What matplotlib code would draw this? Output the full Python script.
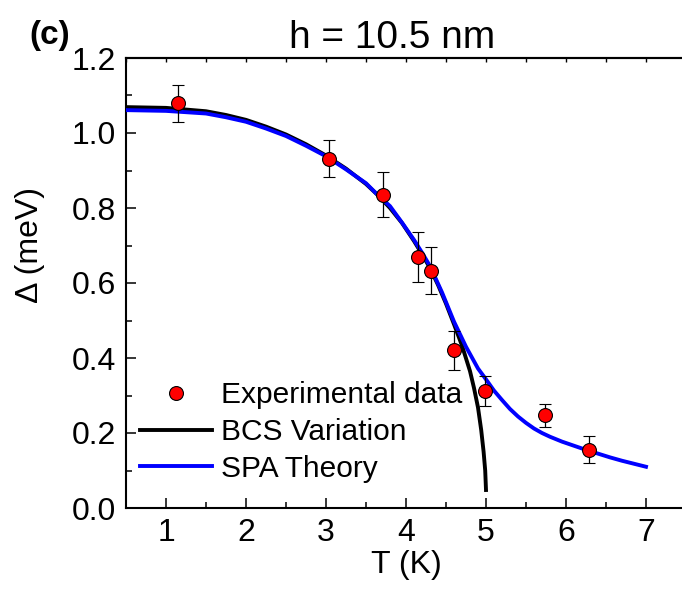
import matplotlib
matplotlib.use("Agg")
import matplotlib.pyplot as plt
from matplotlib.ticker import MultipleLocator

plt.rcParams['font.family'] = ['Liberation Sans', 'DejaVu Sans']

# experimental points
T_exp = [1.15, 3.04, 3.71, 4.15, 4.31, 4.60, 4.99, 5.74, 6.29]
gap_exp = [1.079, 0.931, 0.836, 0.670, 0.633, 0.421, 0.312, 0.247, 0.155]
gap_err = [0.050, 0.049, 0.059, 0.067, 0.062, 0.052, 0.041, 0.031, 0.036]

# BCS variation curve
T_bcs = [0.5, 1.0, 1.5, 1.75, 2.0, 2.25, 2.5, 2.75, 3.0, 3.25, 3.5, 3.65, 3.8,
         3.95, 4.1, 4.2, 4.3, 4.4, 4.5, 4.6, 4.7, 4.8, 4.85, 4.9, 4.94, 4.97,
         4.99, 5.0]
gap_bcs = [1.069, 1.067, 1.058, 1.048, 1.035, 1.017, 0.996, 0.970, 0.940,
           0.905, 0.864, 0.834, 0.800, 0.760, 0.712, 0.677, 0.640, 0.595,
           0.545, 0.490, 0.433, 0.365, 0.320, 0.268, 0.208, 0.150, 0.100, 0.048]

# SPA theory curve
T_spa = [0.5, 1.0, 1.5, 1.75, 2.0, 2.25, 2.5, 2.75, 3.0, 3.25, 3.5, 3.65, 3.8,
         3.95, 4.1, 4.2, 4.3, 4.45, 4.6, 4.75, 4.9, 5.0, 5.1, 5.2, 5.3, 5.4,
         5.5, 5.6, 5.7, 5.8, 5.95, 6.1, 6.25, 6.4, 6.55, 6.7, 6.85, 7.0]
gap_spa = [1.061, 1.059, 1.052, 1.042, 1.030, 1.012, 0.992, 0.966, 0.938,
           0.903, 0.866, 0.834, 0.805, 0.761, 0.715, 0.681, 0.645, 0.575,
           0.497, 0.430, 0.372, 0.343, 0.313, 0.288, 0.264, 0.244, 0.227,
           0.212, 0.200, 0.190, 0.177, 0.166, 0.155, 0.145, 0.135, 0.126,
           0.118, 0.110]

fig = plt.figure(figsize=(6.82, 5.94), dpi=100)
W, H = 682.0, 594.0
# axes box in pixels: left 126, right 686 (runs past the edge), top 58, bottom 508
ax = fig.add_axes([126 / W, (H - 508) / H, 560 / W, 450 / H])

ax.plot(T_bcs, gap_bcs, color='black', lw=2.8, label='BCS Variation', zorder=2)
ax.plot(T_spa, gap_spa, color='#0000ff', lw=2.8, label='SPA Theory', zorder=3)
eb = ax.errorbar(T_exp, gap_exp, yerr=gap_err, fmt='o', color='black', ecolor='black',
                 elinewidth=0.9, capsize=4.5, capthick=0.9, markersize=10,
                 markerfacecolor='#ff0000', markeredgecolor='black', markeredgewidth=0.8,
                 zorder=4)

ax.set_xlim(0.5, 7.5)
ax.set_ylim(0, 1.2)
ax.xaxis.set_major_locator(MultipleLocator(1))
ax.xaxis.set_minor_locator(MultipleLocator(0.5))
ax.yaxis.set_major_locator(MultipleLocator(0.2))
ax.yaxis.set_minor_locator(MultipleLocator(0.1))
ax.yaxis.set_major_formatter(plt.FormatStrFormatter('%.1f'))

ax.tick_params(which='both', direction='in', width=1.1, labelsize=23, pad=7)
ax.tick_params(which='major', length=7)
ax.tick_params(which='minor', length=4)
for s in ['left', 'bottom', 'top']:
    ax.spines[s].set_linewidth(1.5)
ax.spines['right'].set_visible(False)

top = ax.secondary_xaxis('top')
top.xaxis.set_major_locator(MultipleLocator(0.5))
top.tick_params(direction='in', length=3, width=1.0, labeltop=False)
top.spines['top'].set_linewidth(1.5)

ax.set_xlabel('T (K)', fontsize=23, labelpad=2)
ax.set_ylabel('Δ (meV)', fontsize=23)
ax.yaxis.set_label_coords(-0.145, 0.585)

lines = ax.get_lines()
leg = ax.legend([eb[0], lines[0], lines[1]],
                ['Experimental data', 'BCS Variation', 'SPA Theory'],
                loc='upper left', bbox_to_anchor=(140 / W, 1 - 381 / H),
                bbox_transform=fig.transFigure, frameon=False, fontsize=21.5,
                handlelength=2.4, handletextpad=0.3, labelspacing=0.3,
                borderpad=0, borderaxespad=0)

fig.text(392 / W, 1 - 48 / H, 'h = 10.5 nm', fontsize=28, ha='center', va='baseline')
fig.text(29 / W, 1 - 44 / H, '(c)', fontsize=24, fontweight='bold', ha='left', va='baseline')

fig.savefig('out.png', dpi=100)
